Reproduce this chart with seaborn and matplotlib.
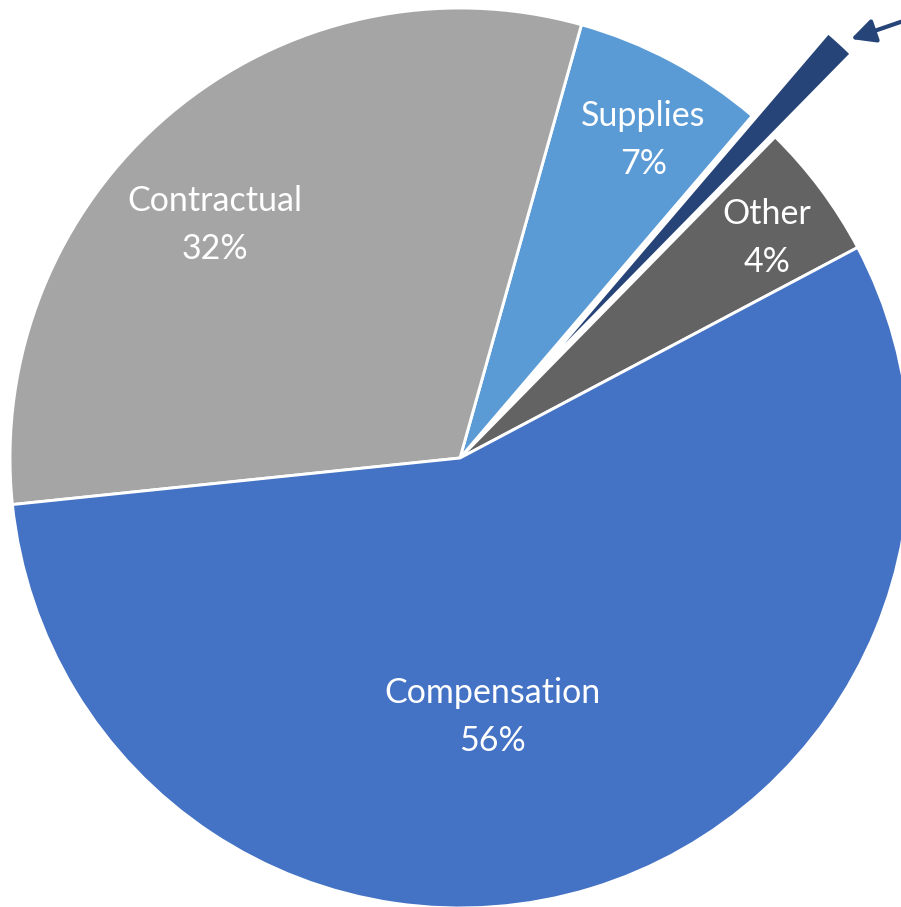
import numpy as np
import matplotlib
matplotlib.use("Agg")
import matplotlib.pyplot as plt
import seaborn as sns

# slices, counterclockwise starting from "Other"
categories = ["Other", "Small", "Supplies", "Contractual", "Compensation"]
shares = [4.9, 1.1, 6.9, 31.0, 56.1]
pct_labels = ["4%", "", "7%", "32%", "56%"]
explode = [0, 0.25, 0, 0, 0]
colors = ["#636363", "#264478", "#5B9BD5", "#A5A5A5", "#4472C4"]

# label anchors in data units (pie radius = 1)
label_pos = {
    "Other": (0.682, 0.489),
    "Supplies": (0.407, 0.707),
    "Contractual": (-0.544, 0.518),
    "Compensation": (0.073, -0.576),
}

W, H = 901, 907
cx, cy, R = 460, 458, 450

sns.set_theme(style="white")
plt.rcParams["font.family"] = ["Lato", "DejaVu Sans"]

fig = plt.figure(figsize=(W / 100, H / 100), dpi=100)
ax = fig.add_axes([0, 0, 1, 1])

wedges, _ = ax.pie(shares, colors=colors, startangle=27.9, counterclock=True,
                   explode=explode, radius=1,
                   wedgeprops=dict(edgecolor="white", linewidth=2.1))

for cat, pct in zip(categories, pct_labels):
    if cat not in label_pos:
        continue
    x, y = label_pos[cat]
    ax.text(x, y, f"{cat}\n{pct}", ha="center", va="center", color="white",
            fontsize=24.5, linespacing=1.6)

# arrow pointing at the exploded slice
head = ((851 - cx) / R, (cy - 39) / R)
tail = ((915 - cx) / R, (cy - 17) / R)
ax.annotate("", xy=head, xytext=tail, annotation_clip=False,
            arrowprops=dict(arrowstyle="-|>,head_length=0.6,head_width=0.3",
                            color="#264478", lw=3,
                            mutation_scale=24, shrinkA=0, shrinkB=0))

ax.set_xlim(-cx / R, (W - cx) / R)
ax.set_ylim(-(H - cy) / R, cy / R)
ax.set_aspect("auto")
ax.axis("off")

fig.savefig("out.png", dpi=100)
